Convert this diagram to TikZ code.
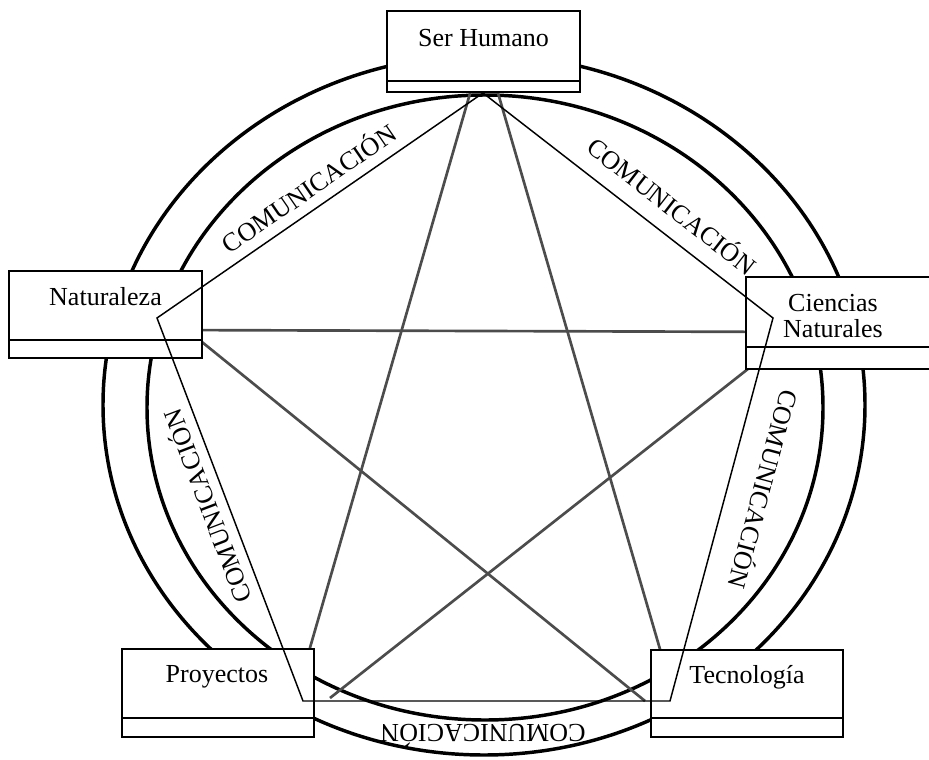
\documentclass[tikz,border=0pt]{standalone}
\usepackage{fontspec}
\setmainfont{Liberation Serif}
\usetikzlibrary{fit}
\begin{document}
\begin{tikzpicture}[x=0.75pt,y=-0.75pt,
  ring/.style={line width=2.6pt},
  starline/.style={line width=2pt, draw=black!70},
  penta/.style={line width=1.1pt, line join=miter},
  boxst/.style={draw, fill=white, line width=1.2pt, inner sep=0pt},
  boxdiv/.style={line width=1.2pt},
  boxshade/.style={line width=2.2pt},
  lbl/.style={font=\fontsize{19.5}{20}\selectfont, inner sep=0pt},
  com/.style={font=\fontsize{19.5}{20}\selectfont, inner sep=0pt}]
\useasboundingbox (0,0) rectangle (929,760);
% rings
\draw[ring] (484,405) ellipse [x radius=381, y radius=350];
\draw[ring] (485,407.5) ellipse [x radius=338, y radius=312.5];
% star
\coordinate (sT) at (484,45);
\coordinate (sL) at (160,308);
\coordinate (sLh) at (167,330);
\coordinate (sR) at (797,332);
\coordinate (sRd) at (800,328);
\coordinate (sBL) at (290,717);
\coordinate (sBLe) at (330,698);
\coordinate (sBR) at (678,711);
\coordinate (sBRe) at (645,701);
\draw[starline] (sT) -- (sBL);
\draw[starline] (sT) -- (sBR);
\draw[starline] (sLh) -- (sR);
\draw[starline] (sL) -- (sBRe);
\draw[starline] (sRd) -- (sBLe);
% boxes
\node[boxst, fit={(387,11) (580,92)}] (sh) {};
\draw[boxdiv] (387,81) -- (580,81);
\draw[boxshade] (387,32) -- (387,92) -- (580,92);
\node[lbl] (shT) at (483.5,38) {Ser Humano};

\node[boxst, fit={(9,271) (202,358)}] (na) {};
\draw[boxdiv] (9,340) -- (202,340);
\draw[boxshade] (9,297) -- (9,358) -- (202,358);
\node[lbl] (naT) at (105.5,297) {Naturaleza};

\node[boxst, fit={(746,277) (939,369)}] (cn) {};
\draw[boxdiv] (746,347) -- (939,347);
\draw[boxshade] (746,300) -- (746,369) -- (939,369);
\node[lbl, align=center] (cnT) at (833,316) {Ciencias\\Naturales};

\node[boxst, fit={(122,649) (314,737)}] (pr) {};
\draw[boxdiv] (122,718) -- (314,718);
\draw[boxshade] (122,678) -- (122,737) -- (314,737);
\node[lbl] (prT) at (217,677) {Proyectos};

\node[boxst, fit={(651,650) (843,737)}] (te) {};
\draw[boxdiv] (651,718) -- (843,718);
\draw[boxshade] (651,660) -- (651,737) -- (843,737);
\node[lbl] (teT) at (747,677) {Tecnología};
% pentagon
\coordinate (pT) at (483,93);
\coordinate (pR) at (773,318);
\coordinate (pBR) at (670,701);
\coordinate (pBL) at (303,701);
\coordinate (pL) at (157,318);
\draw[penta] (pT) -- (pR) -- (pBR) -- (pBL) -- (pL) -- cycle;
% labels
\node[com, rotate=34.6] (c1) at (308,187) {COMUNICACIÓN};
\node[com, rotate=-37.8] (c2) at (673,205) {COMUNICACIÓN};
\node[com, rotate=-105.1] (c3) at (765,490) {COMUNICACIÓN};
\node[com, rotate=180] (c4) at (483,736) {COMUNICACIÓN};
\node[com, rotate=110.9] (c5) at (206,507) {COMUNICACIÓN};
\end{tikzpicture}
\end{document}
